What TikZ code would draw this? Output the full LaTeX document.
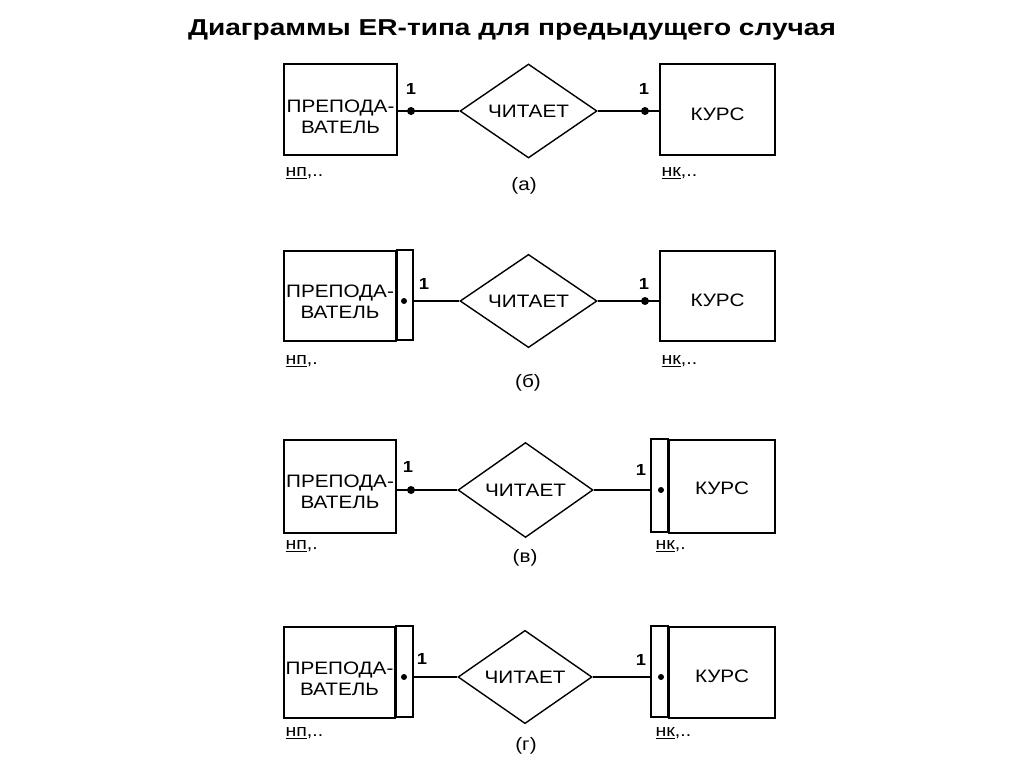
\documentclass[tikz,border=0pt]{standalone}
\usepackage{fontspec}
\setmainfont[FakeStretch=1.15]{Liberation Sans}
\newfontfamily\titlefont[FakeStretch=1.22]{Liberation Sans}
\usetikzlibrary{shapes.geometric}
\begin{document}
\begin{tikzpicture}[x=1pt,y=-1pt,
  ent/.style={draw,line width=1.6pt,rectangle,inner sep=0pt},
  enttxt/.style={align=center,inner sep=0pt,font=\fontsize{18}{21}\selectfont},
  rel/.style={draw,line width=1.4pt,diamond,inner sep=0pt,font=\fontsize{18}{20}\selectfont},
  conn/.style={line width=1.5pt},
  strip/.style={draw,line width=1.6pt},
  dotc/.style={fill,circle,inner sep=0pt,minimum size=8pt},
  one/.style={font=\bfseries\fontsize{16}{18}\selectfont},
  attr/.style={anchor=west,font=\fontsize{17}{19}\selectfont},
  captxt/.style={font=\fontsize{18}{20}\selectfont}]
\useasboundingbox (0,0) rectangle (1024,768);
\node (title) at (512,30) {\titlefont\bfseries\fontsize{23}{26}\selectfont Диаграммы ER-типа для предыдущего случая};

% ---------- (а) ----------
\node[ent,minimum width=113pt,minimum height=91pt] (p1) at (340.5,109.5) {};
\node[enttxt] (p1t) at ([yshift=-7pt]p1.center) {ПРЕПОДА-\\ВАТЕЛЬ};
\node[rel,minimum width=137pt,minimum height=94pt] (r1) at (528.5,111) {\raisebox{-2pt}{ЧИТАЕТ}};
\node[ent,minimum width=115pt,minimum height=91pt] (k1) at (717.5,109.5) {};
\node[enttxt] (k1t) at ([yshift=-5pt]k1.center) {КУРС};
\node[dotc] (d1l) at (411,111) {};
\node[dotc] (d1r) at (645,111) {};
\draw[conn] (p1.east |- r1) -- (d1l.center) -- (r1.west);
\draw[conn] (r1.east) -- (d1r.center) -- (k1.west |- r1);
\node[one] (o1l) at (411,89) {1};
\node[one] (o1r) at (644,89) {1};
\node[attr] (a1l) at (282,173) {\underline{нп},..};
\node[attr] (a1r) at (658,173) {\underline{нк},..};
\node[captxt] (c1) at (524,186) {(а)};

% ---------- (б) ----------
\node[ent,minimum width=112pt,minimum height=90pt] (p2) at (340,296) {};
\node[enttxt] (p2t) at ([yshift=-6pt]p2.center) {ПРЕПОДА-\\ВАТЕЛЬ};
\draw[strip] (p2.north east) rectangle ++(16,90);
\node[rel,minimum width=137pt,minimum height=88pt] (r2) at (528.5,301) {ЧИТАЕТ};
\node[ent,minimum width=115pt,minimum height=90pt] (k2) at (717.5,296) {};
\node[enttxt] (k2t) at ([yshift=-4pt]k2.center) {КУРС};
\node[dotc,minimum size=6pt] (d2l) at (404,301) {};
\node[dotc] (d2r) at (645,301) {};
\coordinate (s2) at (412,301);
\draw[conn] (s2) -- (r2.west);
\draw[conn] (r2.east) -- (d2r.center) -- (k2.west |- r2);
\node[one] (o2l) at (424,284) {1};
\node[one] (o2r) at (644,284) {1};
\node[attr] (a2l) at (282,361) {\underline{нп},.};
\node[attr] (a2r) at (658,361) {\underline{нк},..};
\node[captxt] (c2) at (528,383) {(б)};

% ---------- (в) ----------
\node[ent,minimum width=112pt,minimum height=93pt] (p3) at (340,486.5) {};
\node[enttxt] (p3t) at ([yshift=-5pt]p3.center) {ПРЕПОДА-\\ВАТЕЛЬ};
\node[rel,minimum width=135pt,minimum height=95pt] (r3) at (525.5,490) {ЧИТАЕТ};
\node[ent,minimum width=106pt,minimum height=93pt] (k3) at (722,486.5) {};
\node[enttxt] (k3t) at ([yshift=-2pt]k3.center) {КУРС};
\draw[strip] (k3.north west) rectangle ++(-17,93);
\node[dotc] (d3l) at (411,490) {};
\node[dotc,minimum size=6pt] (d3r) at (661,490) {};
\coordinate (s3) at (652,490);
\draw[conn] (p3.east |- r3) -- (d3l.center) -- (r3.west);
\draw[conn] (r3.east) -- (s3);
\node[one] (o3l) at (408,467) {1};
\node[one] (o3r) at (641,470) {1};
\node[attr] (a3l) at (282,546) {\underline{нп},.};
\node[attr] (a3r) at (652,546) {\underline{нк},.};
\node[captxt] (c3) at (525,558) {(в)};

% ---------- (г) ----------
\node[ent,minimum width=111pt,minimum height=91pt] (p4) at (339.5,672.5) {};
\node[enttxt] (p4t) at ([yshift=-6pt]p4.center) {ПРЕПОДА-\\ВАТЕЛЬ};
\draw[strip] (p4.north east) rectangle ++(17,91);
\node[rel,minimum width=134pt,minimum height=90pt] (r4) at (525,677) {ЧИТАЕТ};
\node[ent,minimum width=106pt,minimum height=91pt] (k4) at (722,672.5) {};
\node[enttxt] (k4t) at ([yshift=-4pt]k4.center) {КУРС};
\draw[strip] (k4.north west) rectangle ++(-17,91);
\node[dotc,minimum size=6pt] (d4l) at (404,677) {};
\node[dotc,minimum size=6pt] (d4r) at (661,677) {};
\coordinate (s4l) at (412,677);
\coordinate (s4r) at (652,677);
\draw[conn] (s4l) -- (r4.west);
\draw[conn] (r4.east) -- (s4r);
\node[one] (o4l) at (422,659) {1};
\node[one] (o4r) at (641,660) {1};
\node[attr] (a4l) at (282,733) {\underline{нп},..};
\node[attr] (a4r) at (652,733) {\underline{нк},..};
\node[captxt] (c4) at (526,746) {(г)};
\end{tikzpicture}
\end{document}
